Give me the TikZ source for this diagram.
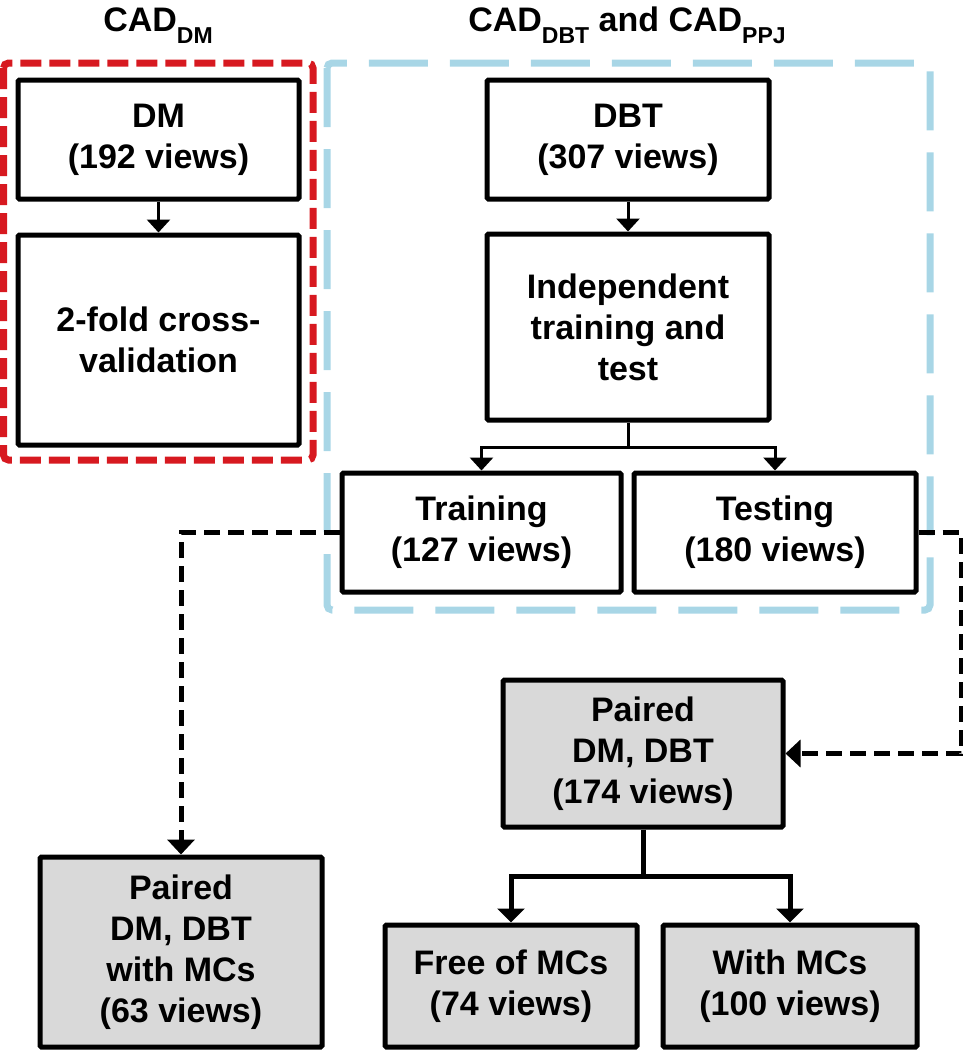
\documentclass[tikz,border=0pt]{standalone}
\usepackage{fontspec}
\setmainfont{Liberation Sans}
\usepackage{xcolor}
\usepackage{tikz}
\usetikzlibrary{arrows.meta,positioning}

\definecolor{cadred}{RGB}{215,25,32}
\definecolor{cadblue}{RGB}{168,214,230}
\definecolor{boxgray}{RGB}{217,217,217}

\newcommand{\lowsub}[1]{\raisebox{-12pt}{\fontsize{23}{23}\selectfont #1}}

\begin{document}
\begin{tikzpicture}[x=1pt,y=-1pt,
    box/.style={draw,line width=5pt,rounded corners=1.5pt,align=center,inner sep=0pt,
        font=\fontsize{34}{41}\selectfont\bfseries},
    graybox/.style={box,fill=boxgray},
    title/.style={anchor=base,font=\fontsize{34}{34}\selectfont\bfseries},
    flow/.style={-{Triangle[width=23pt,length=13pt]},line width=3pt},
    flowthick/.style={-{Triangle[width=27pt,length=14pt]},line width=5pt},
    dashflow/.style={-{Triangle[width=27pt,length=15pt]},line width=5pt,dash pattern=on 16pt off 8pt}]
    \useasboundingbox (0,0) rectangle (962,1050);

    % Titles
    \node[title] (titledm) at (158,31) {CAD\lowsub{DM}};
    \node[title] (titledbt) at (627,31) {CAD\lowsub{DBT} and CAD\lowsub{PPJ}};

    % Dashed frames
    \draw[cadred,line width=7pt,dash pattern=on 21pt off 8pt,rounded corners=5pt] (3.5,63) rectangle (313,460);
    \draw[cadblue,line width=7pt,dash pattern=on 59pt off 22pt,rounded corners=5pt] (327,63) rectangle (930,610);

    % CAD_DM branch
    \node[box,minimum width=281pt,minimum height=119pt] (dm) at (158.5,139.5) {DM\\(192 views)};
    \node[box,minimum width=281pt,minimum height=210pt] (fold) at (158.5,340) {2-fold cross-\\validation};
    \draw[flow] (dm) -- (fold);

    % CAD_DBT and CAD_PPJ branch
    \node[box,minimum width=282pt,minimum height=119pt] (dbt) at (628,139.5) {DBT\\(307 views)};
    \node[box,minimum width=282pt,minimum height=186pt] (indep) at (628,327) {Independent\\training and\\test};
    \node[box,minimum width=279pt,minimum height=119pt] (train) at (481.5,532.5) {Training\\(127 views)};
    \node[box,minimum width=282pt,minimum height=119pt] (test) at (775,532.5) {Testing\\(180 views)};
    \draw[flow] (dbt) -- (indep);
    \coordinate (split) at (628,447);
    \draw[line width=3pt] (indep) -- (split);
    \draw[flow] (split) -| (train);
    \draw[flow] (split) -| (test);

    % Paired views
    \node[graybox,minimum width=282pt,minimum height=190pt] (pairmc) at (181,952) {Paired\\DM, DBT\\with MCs\\(63 views)};
    \node[graybox,minimum width=280pt,minimum height=147pt] (pair) at (643,753.5) {Paired\\DM, DBT\\(174 views)};
    \node[graybox,minimum width=252pt,minimum height=122pt] (free) at (511,986) {Free of MCs\\(74 views)};
    \node[graybox,minimum width=254pt,minimum height=122pt] (with) at (790,986) {With MCs\\(100 views)};

    % Dashed links
    \draw[dashflow] (train.west) -| (pairmc.north);
    \draw[dashflow] (test.east) -- ++(43,0) |- (pair.east);

    % Split of paired views
    \coordinate (psplit) at (643,876);
    \draw[line width=5pt] (pair) -- (psplit);
    \draw[flowthick] (psplit) -| (free);
    \draw[flowthick] (psplit) -| (with);
\end{tikzpicture}
\end{document}
